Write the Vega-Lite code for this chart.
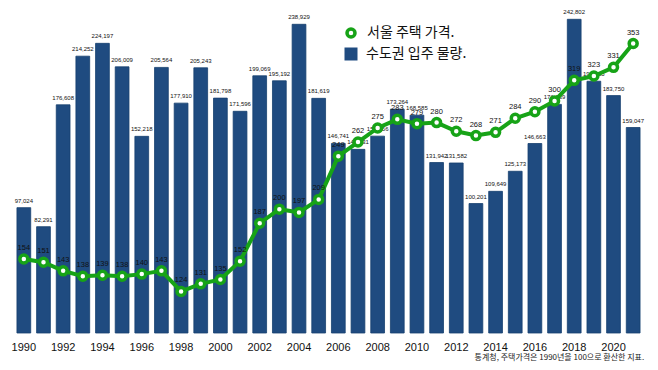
{
  "$schema": "https://vega.github.io/schema/vega-lite/v6.json",
  "width": 629,
  "height": 323,
  "autosize": "none",
  "padding": {"left": 14, "top": 10, "right": 15, "bottom": 37},
  "background": "white",
  "config": {
    "view": {"stroke": null},
    "font": "Liberation Sans",
    "legend": {"padding": 0}
  },
  "title": {
    "text": "통계청, 주택가격은 1990년을 100으로 환산한 지표.",
    "orient": "bottom",
    "anchor": "end",
    "fontSize": 8,
    "fontWeight": "normal",
    "font": "Noto Sans CJK KR",
    "color": "#222222",
    "offset": 2
  },
  "data": {
    "values": [
      {"year": 1990, "housing": 97024, "price": 154},
      {"year": 1991, "housing": 82291, "price": 151},
      {"year": 1992, "housing": 176608, "price": 143},
      {"year": 1993, "housing": 214252, "price": 138},
      {"year": 1994, "housing": 224197, "price": 139},
      {"year": 1995, "housing": 206009, "price": 138},
      {"year": 1996, "housing": 152218, "price": 140},
      {"year": 1997, "housing": 205564, "price": 143},
      {"year": 1998, "housing": 177910, "price": 124},
      {"year": 1999, "housing": 205243, "price": 131},
      {"year": 2000, "housing": 181798, "price": 135},
      {"year": 2001, "housing": 171596, "price": 152},
      {"year": 2002, "housing": 199069, "price": 187},
      {"year": 2003, "housing": 195192, "price": 200},
      {"year": 2004, "housing": 238929, "price": 197},
      {"year": 2005, "housing": 181619, "price": 209},
      {"year": 2006, "housing": 146741, "price": 249},
      {"year": 2007, "housing": 142131, "price": 262},
      {"year": 2008, "housing": 152356, "price": 275},
      {"year": 2009, "housing": 173264, "price": 283},
      {"year": 2010, "housing": 168585, "price": 279},
      {"year": 2011, "housing": 131942, "price": 280},
      {"year": 2012, "housing": 131582, "price": 272},
      {"year": 2013, "housing": 100201, "price": 268},
      {"year": 2014, "housing": 109649, "price": 271},
      {"year": 2015, "housing": 125173, "price": 284},
      {"year": 2016, "housing": 146663, "price": 290},
      {"year": 2017, "housing": 176939, "price": 300},
      {"year": 2018, "housing": 242802, "price": 319},
      {"year": 2019, "housing": 194865, "price": 323},
      {"year": 2020, "housing": 183750, "price": 331},
      {"year": 2021, "housing": 159047, "price": 353}
    ]
  },
  "encoding": {
    "x": {
      "field": "year",
      "type": "ordinal",
      "scale": {"paddingInner": 0.3, "paddingOuter": 0.15},
      "axis": {
        "title": null,
        "values": [1990, 1992, 1994, 1996, 1998, 2000, 2002, 2004, 2006, 2008, 2010, 2012, 2014, 2016, 2018, 2020],
        "labelAngle": 0,
        "labelFontSize": 11,
        "labelColor": "#111111",
        "labelPadding": 8,
        "ticks": false,
        "tickSize": 0,
        "domain": false,
        "grid": false
      }
    }
  },
  "layer": [
    {
      "mark": {"type": "bar", "stroke": "#17406f", "strokeWidth": 0.8},
      "encoding": {
        "y": {"field": "housing", "type": "quantitative", "scale": {"domain": [0, 250000]}, "axis": null},
        "fill": {
          "datum": "수도권 입주 물량.",
          "type": "nominal",
          "scale": {"domain": ["수도권 입주 물량."], "range": ["#1f4b80"]},
          "legend": {
            "title": null,
            "orient": "none",
            "legendX": 330,
            "legendY": 37,
            "symbolType": "square",
            "symbolSize": 169,
            "symbolStrokeWidth": 0,
            "labelFontSize": 14,
            "labelFont": "Noto Sans CJK KR",
            "labelColor": "#111111",
            "labelOffset": 8
          }
        }
      }
    },
    {
      "mark": {"type": "text", "fontSize": 6, "dy": -4, "baseline": "bottom", "color": "#111111"},
      "encoding": {
        "y": {"field": "housing", "type": "quantitative", "scale": {"domain": [0, 250000]}, "axis": null},
        "text": {"field": "housing", "type": "quantitative", "format": ","}
      }
    },
    {
      "mark": {"type": "line", "color": "#17a317", "strokeWidth": 4},
      "encoding": {
        "y": {"field": "price", "type": "quantitative", "scale": {"domain": [85.6, 384], "zero": false}, "axis": null}
      }
    },
    {
      "mark": {"type": "point", "shape": "circle", "filled": true, "fill": "white", "strokeWidth": 3.5, "size": 64, "opacity": 1},
      "encoding": {
        "y": {"field": "price", "type": "quantitative", "scale": {"domain": [85.6, 384], "zero": false}, "axis": null},
        "stroke": {
          "datum": "서울 주택 가격.",
          "type": "nominal",
          "scale": {"domain": ["서울 주택 가격."], "range": ["#17a317"]},
          "legend": {
            "title": null,
            "orient": "none",
            "legendX": 330,
            "legendY": 16,
            "symbolType": "circle",
            "symbolSize": 64,
            "symbolStrokeWidth": 3.5,
            "symbolFillColor": "white",
            "labelFontSize": 14,
            "labelFont": "Noto Sans CJK KR",
            "labelColor": "#111111",
            "labelOffset": 9
          }
        }
      }
    },
    {
      "mark": {"type": "text", "fontSize": 7.5, "dy": -11, "color": "#111111"},
      "encoding": {
        "y": {"field": "price", "type": "quantitative", "scale": {"domain": [85.6, 384], "zero": false}, "axis": null},
        "text": {"field": "price", "type": "quantitative"}
      }
    }
  ],
  "resolve": {"scale": {"y": "independent", "fill": "independent", "stroke": "independent"}}
}
